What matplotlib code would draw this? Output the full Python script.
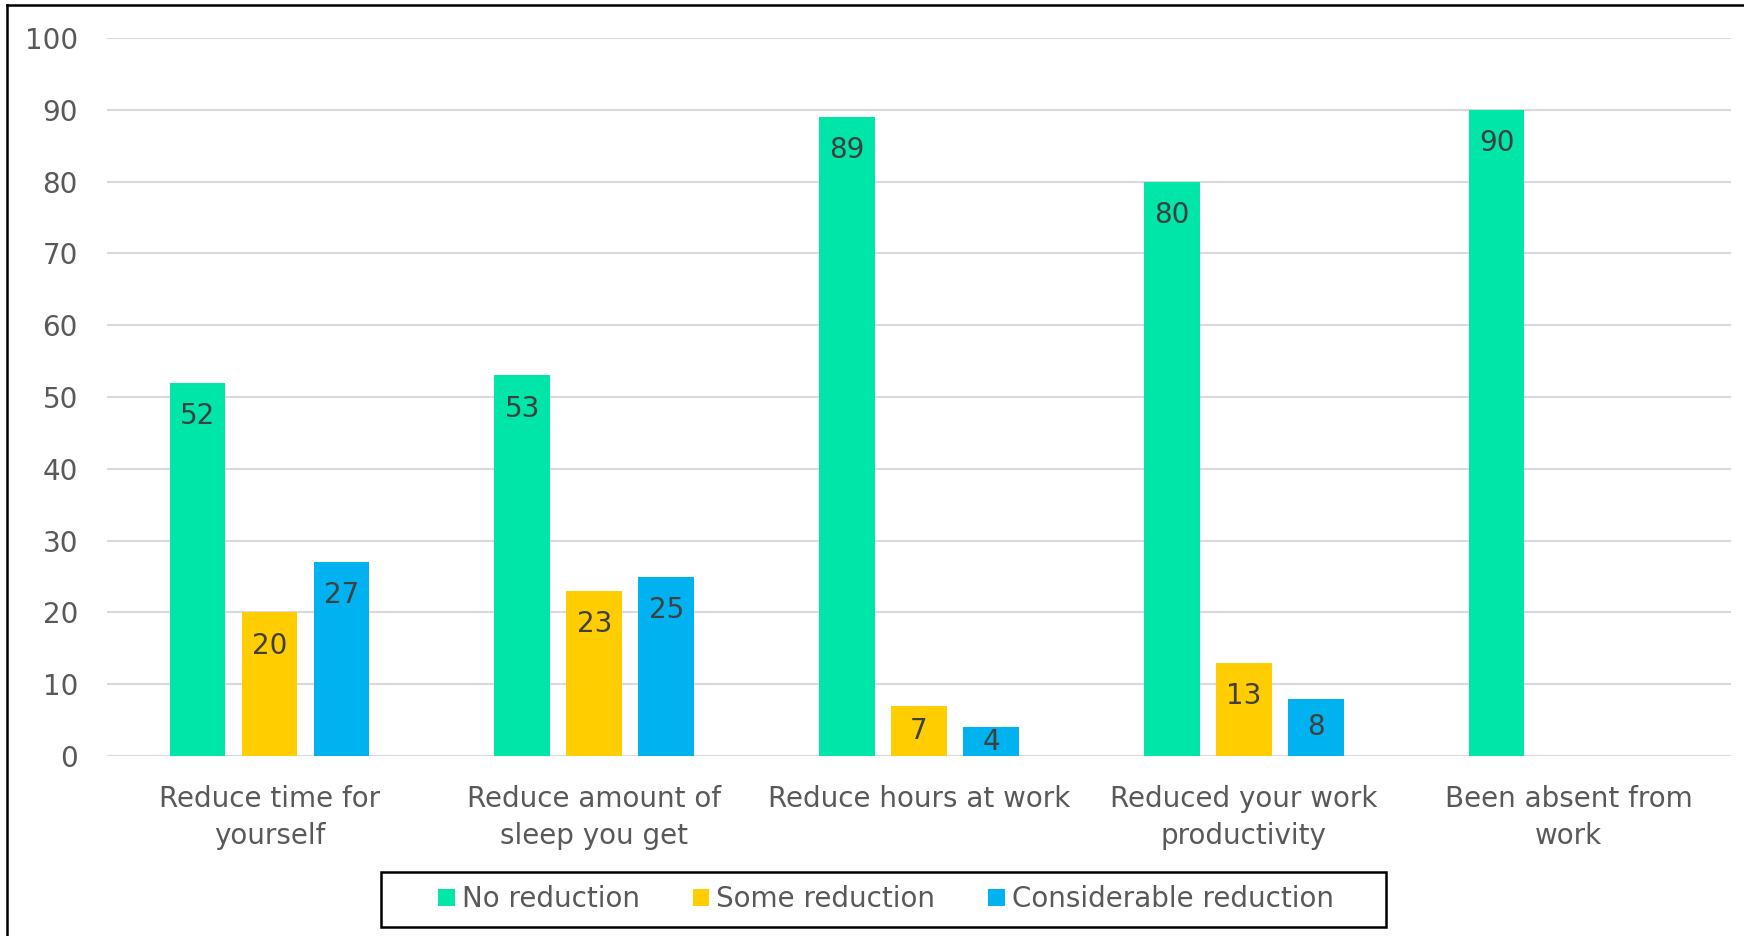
import matplotlib
matplotlib.use("Agg")
import matplotlib.pyplot as plt
from matplotlib.patches import Patch, Rectangle
from matplotlib.lines import Line2D
import numpy as np

categories = ["Reduce time for\nyourself", "Reduce amount of\nsleep you get",
              "Reduce hours at work", "Reduced your work\nproductivity",
              "Been absent from\nwork"]
series_names = ["No reduction", "Some reduction", "Considerable reduction"]
no_reduction = [52, 53, 89, 80, 90]
some_reduction = [20, 23, 7, 13, None]
considerable_reduction = [27, 25, 4, 8, None]
colors = ["#00E5A8", "#FFCD00", "#00B2F0"]

plt.rcParams['font.family'] = ['DejaVu Sans']
FS = 20

fig = plt.figure(figsize=(17.44, 9.36), dpi=100)
ax = fig.add_axes([0.0614, 0.1923, 0.9311, 0.7671])

x = np.arange(len(categories))
step = 0.2217
width = 0.172
all_series = [no_reduction, some_reduction, considerable_reduction]
for i, (vals, col) in enumerate(zip(all_series, colors)):
    for xi, v in zip(x, vals):
        if v is None:
            continue
        xpos = xi + (i - 1) * step
        ax.bar(xpos, v, width=width, color=col, zorder=3)
        # inside-end label, centred in the bar when the bar is too short
        if v >= 10:
            ax.annotate(f"{v}", xy=(xpos, v), xytext=(0, -24),
                        textcoords="offset points", ha='center', va='center',
                        fontsize=FS, color='#404040', zorder=4)
        else:
            ax.text(xpos, v / 2, f"{v}", ha='center', va='center',
                    fontsize=FS, color='#404040', zorder=4)

ax.set_xlim(-0.5, len(categories) - 0.5)
ax.set_ylim(0, 100)
ax.set_yticks(range(0, 101, 10))
ax.set_xticks(x)
ax.set_xticklabels(categories, fontsize=FS, color='#595959', linespacing=1.42)
ax.tick_params(axis='y', labelsize=FS, labelcolor='#595959', length=0, pad=21)
ax.tick_params(axis='x', length=0, pad=21)
ax.grid(axis='y', color='#D9D9D9', linewidth=1.5, zorder=0)
for s in ax.spines.values():
    s.set_visible(False)

handles = [Patch(facecolor=c, edgecolor='none') for c in colors]
leg = fig.legend(handles, series_names, loc='center', bbox_to_anchor=(0.508, 0.0392),
                 ncol=3, fontsize=FS, frameon=False,
                 handlelength=0.6, handleheight=0.6,
                 handletextpad=0.25, columnspacing=1.9, borderpad=0.2)
for t in leg.get_texts():
    t.set_color('#595959')

# legend box
fig.add_artist(Rectangle((0.2185, 0.0101), 0.5763, 0.0582, transform=fig.transFigure,
                         fill=False, edgecolor='black', linewidth=1.8))

# outer frame lines (left and top)
fig.add_artist(Line2D([0.0043, 0.0043], [0, 0.995], color='black', linewidth=1.8))
fig.add_artist(Line2D([0.0043, 1.0], [0.995, 0.995], color='black', linewidth=1.8))

fig.savefig("out.png", dpi=100)
